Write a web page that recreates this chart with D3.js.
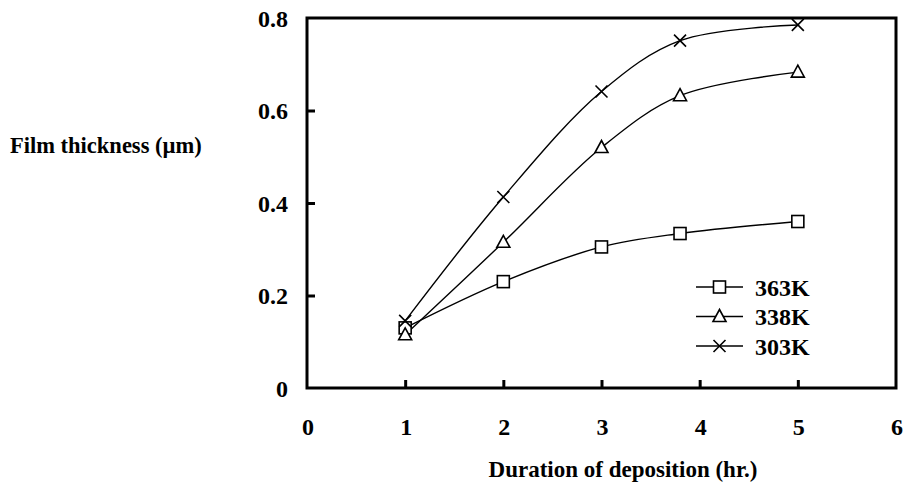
<!DOCTYPE html>
<html>
<head>
<meta charset="utf-8">
<script src="https://cdn.jsdelivr.net/npm/d3@7"></script>
<style>
  body { margin: 0; background: #fff; }
  text { font-family: "Liberation Serif", "Times New Roman", serif; font-weight: bold; fill: #000; }
</style>
</head>
<body>
<div id="chart"></div>
<script>
// data
var series = ["363K", "338K", "303K"];
var hours = [1, 2, 3, 3.8, 5];
var v363 = [0.13, 0.23, 0.305, 0.334, 0.36];
var v338 = [0.115, 0.315, 0.52, 0.632, 0.683];
var v303 = [0.145, 0.413, 0.641, 0.751, 0.785];
var xTicks = [0, 1, 2, 3, 4, 5, 6];
var yTicks = [0, 0.2, 0.4, 0.6, 0.8];
var yLabels = ["0", "0.2", "0.4", "0.6", "0.8"];

var width = 905, height = 485;
var margin = {top: 18, right: 9, bottom: 97, left: 307};
var w = width - margin.left - margin.right,
    h = height - margin.top - margin.bottom;

var svg = d3.select("#chart").append("svg")
    .attr("width", width)
    .attr("height", height);
var g = svg.append("g")
    .attr("transform", "translate(" + margin.left + "," + margin.top + ")");

var x = d3.scaleLinear().domain([0, 6]).range([0, w]);
var y = d3.scaleLinear().domain([0, 0.8]).range([h, 0]);

// inner ticks
g.append("g")
  .attr("transform", "translate(0," + h + ")")
  .call(d3.axisTop(x).tickValues([1, 2, 3, 4, 5]).tickSize(8).tickFormat(""))
  .call(a => a.select(".domain").remove())
  .selectAll("line").attr("stroke-width", 3);
g.append("g")
  .call(d3.axisRight(y).tickValues([0.2, 0.4, 0.6]).tickSize(8).tickFormat(""))
  .call(a => a.select(".domain").remove())
  .selectAll("line").attr("stroke-width", 3);

// tick labels
g.selectAll(".xl").data(xTicks).join("text")
  .attr("x", d => x(d) + 1)
  .attr("y", h + 47)
  .attr("text-anchor", "middle")
  .style("font-size", "24px")
  .text(d => d);
g.selectAll(".yl").data(yTicks).join("text")
  .attr("x", -19)
  .attr("y", d => y(d) + 8.5)
  .attr("text-anchor", "end")
  .style("font-size", "24px")
  .text((d, i) => yLabels[i]);

// box
g.append("rect")
  .attr("width", w).attr("height", h)
  .attr("fill", "none").attr("stroke", "#000").attr("stroke-width", 3);

// axis titles
svg.append("text")
  .attr("x", 10).attr("y", 153)
  .style("font-size", "22.5px")
  .text("Film thickness (\u00b5m)");
svg.append("text")
  .attr("x", 623).attr("y", 477)
  .attr("text-anchor", "middle")
  .style("font-size", "23px")
  .text("Duration of deposition (hr.)");

var all = [v363, v338, v303];
var line = d3.line()
  .x((d, i) => x(hours[i]))
  .y(d => y(d))
  .curve(d3.curveCatmullRom.alpha(0.5));

function marker(sel, k) {
  if (k == 0) {
    sel.append("rect").attr("x", -6).attr("y", -6).attr("width", 12).attr("height", 12)
      .attr("fill", "#fff").attr("stroke", "#000").attr("stroke-width", 1.6);
  } else if (k == 1) {
    sel.append("path").attr("d", "M0,-7L6.5,5L-6.5,5Z")
      .attr("fill", "#fff").attr("stroke", "#000").attr("stroke-width", 1.6);
  } else {
    sel.append("path").attr("d", "M-6,-6L6,6M-6,6L6,-6")
      .attr("stroke", "#000").attr("stroke-width", 1.6);
  }
}

all.forEach((vals, k) => {
  g.append("path").datum(vals)
    .attr("d", line)
    .attr("fill", "none").attr("stroke", "#000").attr("stroke-width", 1.4);
});
all.forEach((vals, k) => {
  vals.forEach((v, i) => {
    var m = g.append("g").attr("transform", "translate(" + x(hours[i]) + "," + y(v) + ")");
    marker(m, k);
  });
});

// legend
var leg = svg.append("g").attr("transform", "translate(696,287)");
series.forEach((s, k) => {
  var row = leg.append("g").attr("transform", "translate(0," + (k * 29.5) + ")");
  row.append("line").attr("x1", 0).attr("x2", 47).attr("stroke", "#000").attr("stroke-width", 1.4);
  var m = row.append("g").attr("transform", "translate(23.5,0)");
  marker(m, k);
  row.append("text").attr("x", 59).attr("y", 8.5).style("font-size", "24px").text(s);
});
</script>
</body>
</html>
